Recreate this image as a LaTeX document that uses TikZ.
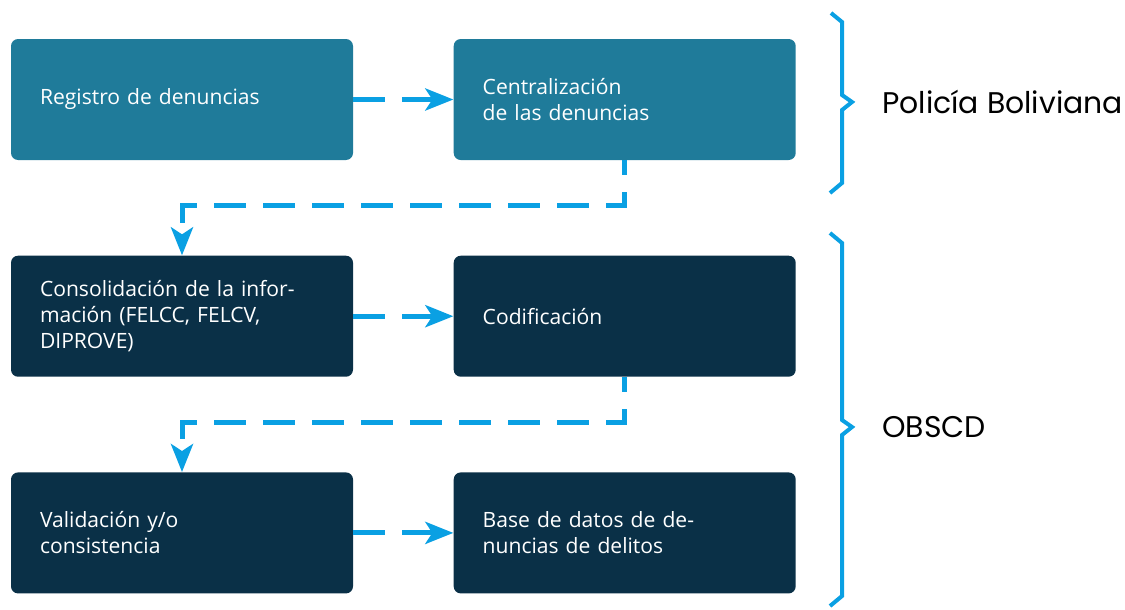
\documentclass[tikz,border=0pt]{standalone}
\usepackage{fontspec}
\setmainfont{Open Sans}
\newfontfamily\labelfont{Poppins}
\usetikzlibrary{positioning,arrows.meta}
\definecolor{polteal}{HTML}{1F7B9A}
\definecolor{obsnavy}{HTML}{0A3047}
\definecolor{linkblue}{HTML}{0AA0E3}
\begin{document}
\begin{tikzpicture}[
    stage/.style={rounded corners=4pt, text=white, text width=5.68cm, inner xsep=0.58cm,
        minimum height=2.42cm, align=left, font=\fontsize{12}{14.8}\selectfont},
    link/.style={draw=linkblue, line width=0.1cm, dash pattern=on 0.64cm off 0.34cm,
        -{Stealth[length=0.56cm, width=0.44cm, inset=0.14cm]}},
    elbow/.style={link, dash phase=0.34cm},
    bracket/.style={draw=linkblue, line width=0.08cm},
    group/.style={inner sep=0pt, anchor=west, font=\labelfont\fontsize{17}{20}\selectfont}]
    \useasboundingbox (0,0) rectangle (22.5,-12.18);
    % stages
    \node[stage, fill=polteal] (reg) at (3.64,-1.99) {Registro de denuncias};
    \node[stage, fill=polteal, right=2cm of reg] (cent) {Centralizaci\'on\\de las denuncias};
    \node[stage, fill=obsnavy, below=1.9cm of reg] (cons) {Consolidaci\'on de la infor-\\maci\'on (FELCC, FELCV,\\DIPROVE)};
    \node[stage, fill=obsnavy, right=2cm of cons] (cod) {Codificaci\'on};
    \node[stage, fill=obsnavy, below=1.9cm of cons] (val) {Validaci\'on y/o\\consistencia};
    \node[stage, fill=obsnavy, right=2cm of val] (base) {Base de datos de de-\\nuncias de delitos};
    % flow
    \draw[link] (reg) -- (cent);
    \draw[elbow] (cent.south) -- ++(0,-0.9) -| (cons.north);
    \draw[link] (cons) -- (cod);
    \draw[elbow] (cod.south) -- ++(0,-0.9) -| (val.north);
    \draw[link] (val) -- (base);
    % brackets
    \draw[bracket] (16.62,-0.26) -- (16.84,-0.44) -- (16.84,-1.9) -- (17.04,-2.04) coordinate (poltip)
        -- (16.84,-2.2) -- (16.84,-3.66) -- (16.6,-3.86);
    \draw[bracket] (16.6,-4.66) -- (16.84,-4.86) -- (16.84,-8.4) -- (17.04,-8.54) coordinate (obstip)
        -- (16.84,-8.7) -- (16.84,-11.92) -- (16.6,-12.12);
    \node[group, right=0.6cm of poltip] (pol) {Polic\'ia Boliviana};
    \node[group, right=0.6cm of obstip] (obs) {OBSCD};
\end{tikzpicture}
\end{document}
